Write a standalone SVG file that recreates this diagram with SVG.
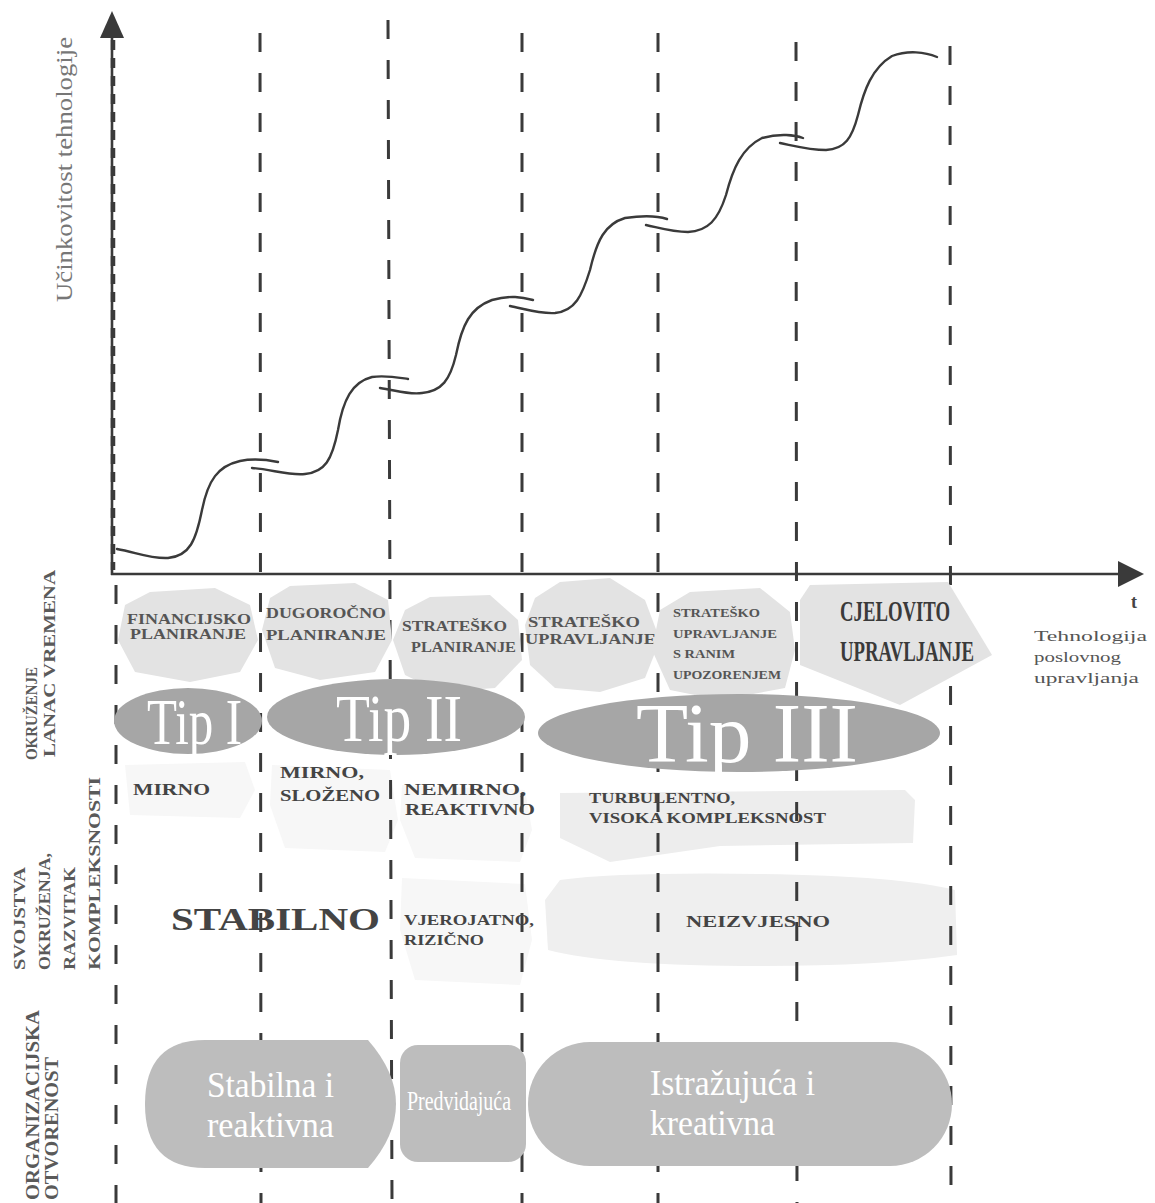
<svg xmlns="http://www.w3.org/2000/svg" width="1155" height="1203" viewBox="0 0 1155 1203">
<style>
.bg{fill:#ffffff}
.dash{stroke:#3a3a3a;stroke-width:3;stroke-dasharray:19 21;fill:none}
.axis{stroke:#3a3a3a;stroke-width:2.6;fill:none}
.curve{stroke:#3a3a3a;stroke-width:2.4;fill:none;stroke-linecap:round}
.blob{fill:#e3e3e3}
.faint{fill:#f7f7f7}
.tip{fill:#a6a6a6}
.org{fill:#bdbdbd}
.serif{font-family:"Liberation Serif","Times New Roman",serif}
.lbl{font-family:"Liberation Serif",serif;font-weight:bold;fill:#5a5a5a}
.b1{font-family:"Liberation Serif",serif;font-weight:bold;fill:#555}
.b3{font-family:"Liberation Serif",serif;font-weight:bold;fill:#444}
.w{font-family:"Liberation Serif",serif;fill:#ffffff}
</style>
<rect class="bg" x="0" y="0" width="1155" height="1203"/>

<!-- background shapes -->
<g id="faint-shapes">
  <path class="faint" d="M125,765 L245,762 L255,790 L240,818 L130,815 Z"/>
  <path class="faint" d="M272,765 L390,770 L398,820 L385,852 L285,848 L270,805 Z"/>
  <path class="faint" d="M402,785 L525,790 L532,830 L520,862 L415,858 L400,820 Z"/>
  <path class="faint" d="M402,878 L525,884 L532,940 L520,985 L415,980 L400,930 Z"/>
  <path id="turb-bg" fill="#ededed" d="M560,793 L905,790 L915,800 L913,843 L720,846 L610,862 L560,838 Z"/>
  <path id="neiz-bg" fill="#efefef" d="M560,880 Q620,872 760,874 Q900,876 955,890 L957,955 Q880,966 760,966 Q610,966 548,950 L545,900 Z"/>
</g>

<!-- dashed period lines -->
<g id="gridlines">
  <line class="dash" x1="116" y1="585" x2="116" y2="1203"/>
  <line class="dash" x1="260" y1="33" x2="261" y2="1203"/>
  <line class="dash" x1="388" y1="20" x2="392" y2="1203"/>
  <line class="dash" x1="522" y1="33" x2="522" y2="1203"/>
  <line class="dash" x1="658" y1="33" x2="658" y2="1203"/>
  <line class="dash" x1="796" y1="42" x2="797" y2="1203"/>
  <line class="dash" x1="950" y1="46" x2="951" y2="1203"/>
</g>

<!-- axes -->
<g id="axes">
  <line class="axis" x1="112" y1="34" x2="112" y2="575"/>
  <line stroke="#3a3a3a" stroke-width="4.5" stroke-dasharray="10 8" x1="113" y1="40" x2="113" y2="570"/>
  <polygon fill="#3a3a3a" points="112,11 100,38 124,38"/>
  <line class="axis" x1="111" y1="574" x2="1122" y2="574"/>
  <polygon fill="#3a3a3a" points="1144,574 1118,561 1118,587"/>
  <text class="serif" font-size="24" fill="#777" transform="translate(72,302) rotate(-90)" textLength="265" lengthAdjust="spacingAndGlyphs">Učinkovitost tehnologije</text>
  <text class="serif" font-size="18" font-weight="bold" fill="#444" x="1131" y="608">t</text>
</g>

<!-- S-curves -->
<g id="curves">
  <path class="curve" d="M117,549 C135,552 150,559 168,558 C190,556 196,540 202,510 C208,480 218,466 240,461 C255,458 268,460 278,462"/>
  <path class="curve" d="M252,468 C270,469 290,476 305,474 C325,472 332,460 338,430 C343,400 352,382 372,377 C385,375 395,377 408,379"/>
  <path class="curve" d="M380,388 C395,390 408,395 422,393 C442,391 450,380 456,355 C462,325 470,308 492,300 C510,295 522,297 533,300"/>
  <path class="curve" d="M510,306 C525,309 540,314 555,313 C575,311 582,296 590,270 C597,240 605,224 625,218 C645,215 658,216 667,219"/>
  <path class="curve" d="M646,225 C660,228 672,232 688,232 C708,231 718,220 726,195 C733,168 742,148 762,138 C780,133 795,135 803,138"/>
  <path class="curve" d="M780,143 C795,146 810,150 826,150 C845,149 852,138 858,115 C864,90 872,68 892,56 C908,50 925,52 937,57"/>
</g>

<!-- management technology nodes -->
<g id="node-financijsko">
  <polygon class="blob" points="150,592 215,588 250,605 258,640 240,672 190,682 135,672 118,640 125,605"/>
  <text class="b1" font-size="14" fill="#b0b0b0" x="127" y="624" textLength="124" lengthAdjust="spacingAndGlyphs">FINANCIJSKO</text>
  <text class="b1" font-size="14" fill="#b0b0b0" x="130" y="639" textLength="116" lengthAdjust="spacingAndGlyphs">PLANIRANJE</text>
</g>
<g id="node-dugorocno">
  <polygon class="blob" points="290,586 355,583 388,600 392,640 375,672 320,680 275,668 262,630 270,598"/>
  <text class="b1" font-size="15" x="266" y="618" textLength="120" lengthAdjust="spacingAndGlyphs">DUGOROČNO</text>
  <text class="b1" font-size="15" x="266" y="640" textLength="120" lengthAdjust="spacingAndGlyphs">PLANIRANJE</text>
</g>
<g id="node-strateško-planiranje">
  <polygon class="blob" points="430,597 490,595 518,620 522,660 495,688 440,692 405,675 393,640 405,610"/>
  <text class="b1" font-size="15" x="402" y="631" textLength="105" lengthAdjust="spacingAndGlyphs">STRATEŠKO</text>
  <text class="b1" font-size="15" x="411" y="652" textLength="105" lengthAdjust="spacingAndGlyphs">PLANIRANJE</text>
</g>
<g id="node-strateško-upravljanje">
  <polygon class="blob" points="560,582 610,578 645,600 660,640 645,678 600,692 555,688 530,665 525,625 535,598"/>
  <text class="b1" font-size="15" x="528" y="627" textLength="112" lengthAdjust="spacingAndGlyphs">STRATEŠKO</text>
  <text class="b1" font-size="15" x="525" y="644" textLength="131" lengthAdjust="spacingAndGlyphs">UPRAVLJANJE</text>
</g>
<g id="node-rano-upozorenje">
  <polygon class="blob" points="690,592 760,588 790,612 795,650 785,688 720,700 670,690 652,650 660,610"/>
  <text class="b1" font-size="12" x="673" y="617" textLength="87" lengthAdjust="spacingAndGlyphs">STRATEŠKO</text>
  <text class="b1" font-size="12" x="673" y="638" textLength="104" lengthAdjust="spacingAndGlyphs">UPRAVLJANJE</text>
  <text class="b1" font-size="12" x="673" y="658" textLength="62" lengthAdjust="spacingAndGlyphs">S RANIM</text>
  <text class="b1" font-size="12" x="673" y="679" textLength="108" lengthAdjust="spacingAndGlyphs">UPOZORENJEM</text>
</g>
<g id="node-cjelovito">
  <polygon class="blob" points="810,585 948,582 992,655 900,705 800,665 800,600"/>
  <text class="serif" font-size="29" font-weight="bold" fill="#3a3a3a" x="840" y="621" textLength="110" lengthAdjust="spacingAndGlyphs">CJELOVITO</text>
  <text class="serif" font-size="29" font-weight="bold" fill="#3a3a3a" x="840" y="661" textLength="134" lengthAdjust="spacingAndGlyphs">UPRAVLJANJE</text>
</g>
<g id="label-tehnologija">
  <text class="serif" font-size="14" fill="#555" x="1034" y="641" textLength="113" lengthAdjust="spacingAndGlyphs">Tehnologija</text>
  <text class="serif" font-size="14" fill="#555" x="1034" y="662" textLength="87" lengthAdjust="spacingAndGlyphs">poslovnog</text>
  <text class="serif" font-size="14" fill="#555" x="1034" y="683" textLength="105" lengthAdjust="spacingAndGlyphs">upravljanja</text>
</g>

<!-- environment types -->
<g id="node-tip1">
  <ellipse class="tip" cx="188" cy="721" rx="74" ry="33"/>
  <text class="w" font-size="66" x="147" y="744" textLength="95" lengthAdjust="spacingAndGlyphs">Tip I</text>
</g>
<g id="node-tip2">
  <ellipse class="tip" cx="396" cy="717" rx="129" ry="38"/>
  <text class="w" font-size="68" x="336" y="741" textLength="126" lengthAdjust="spacingAndGlyphs">Tip II</text>
</g>
<g id="node-tip3">
  <ellipse class="tip" cx="739" cy="733" rx="201" ry="39"/>
  <text class="w" font-size="84" x="636" y="762" textLength="222" lengthAdjust="spacingAndGlyphs">Tip III</text>
</g>

<!-- environment properties -->
<g id="node-mirno">
  <text class="b3" font-size="17" x="133" y="795" textLength="77" lengthAdjust="spacingAndGlyphs">MIRNO</text>
</g>
<g id="node-mirno-slozeno">
  <text class="b3" font-size="17" x="280" y="778" textLength="84" lengthAdjust="spacingAndGlyphs">MIRNO,</text>
  <text class="b3" font-size="17" x="280" y="801" textLength="100" lengthAdjust="spacingAndGlyphs">SLOŽENO</text>
</g>
<g id="node-nemirno">
  <text class="b3" font-size="16" x="404" y="795" textLength="122" lengthAdjust="spacingAndGlyphs">NEMIRNO,</text>
  <text class="b3" font-size="16" x="405" y="815" textLength="130" lengthAdjust="spacingAndGlyphs">REAKTIVNO</text>
</g>
<g id="node-turbulentno">
  <text class="b3" font-size="15" x="589" y="803" textLength="146" lengthAdjust="spacingAndGlyphs">TURBULENTNO,</text>
  <text class="b3" font-size="15" x="589" y="823" textLength="237" lengthAdjust="spacingAndGlyphs">VISOKA KOMPLEKSNOST</text>
</g>
<g id="node-stabilno">
  <text class="b3" font-size="32" x="171" y="930" textLength="209" lengthAdjust="spacingAndGlyphs">STABILNO</text>
</g>
<g id="node-vjerojatno">
  <text class="b3" font-size="14" x="404" y="925" textLength="130" lengthAdjust="spacingAndGlyphs">VJEROJATNO,</text>
  <text class="b3" font-size="14" x="404" y="945" textLength="80" lengthAdjust="spacingAndGlyphs">RIZIČNO</text>
</g>
<g id="node-neizvjesno">
  <text class="b3" font-size="17" x="686" y="927" textLength="144" lengthAdjust="spacingAndGlyphs">NEIZVJESNO</text>
</g>

<!-- organisational openness -->
<g id="node-stabilna">
  <path class="org" d="M205,1040 L368,1040 Q396,1072 396,1104 Q396,1136 368,1168 L205,1168 Q145,1168 145,1104 Q145,1040 205,1040 Z"/>
  <text class="w" font-size="36" x="207" y="1097" textLength="127" lengthAdjust="spacingAndGlyphs">Stabilna i</text>
  <text class="w" font-size="36" x="207" y="1137" textLength="127" lengthAdjust="spacingAndGlyphs">reaktivna</text>
</g>
<g id="node-predvidajuca">
  <rect class="org" x="400" y="1045" width="126" height="117" rx="18"/>
  <text class="w" font-size="28" x="407" y="1110" textLength="104" lengthAdjust="spacingAndGlyphs">Predvidajuća</text>
</g>
<g id="node-istrazujuca">
  <rect class="org" x="528" y="1042" width="424" height="124" rx="62"/>
  <text class="w" font-size="36" x="650" y="1095" textLength="165" lengthAdjust="spacingAndGlyphs">Istražujuća i</text>
  <text class="w" font-size="36" x="650" y="1135" textLength="125" lengthAdjust="spacingAndGlyphs">kreativna</text>
</g>

<!-- row labels -->
<g id="row-labels">
  <text class="lbl" font-size="17" transform="translate(37,760) rotate(-90)" textLength="93" lengthAdjust="spacingAndGlyphs">OKRUŽENJE</text>
  <text class="lbl" font-size="17" transform="translate(55,757) rotate(-90)" textLength="187" lengthAdjust="spacingAndGlyphs">LANAC VREMENA</text>
  <text class="lbl" font-size="17" transform="translate(25,970) rotate(-90)" textLength="103" lengthAdjust="spacingAndGlyphs">SVOJSTVA</text>
  <text class="lbl" font-size="17" transform="translate(50,970) rotate(-90)" textLength="117" lengthAdjust="spacingAndGlyphs">OKRUŽENJA,</text>
  <text class="lbl" font-size="17" transform="translate(75,970) rotate(-90)" textLength="103" lengthAdjust="spacingAndGlyphs">RAZVITAK</text>
  <text class="lbl" font-size="17" transform="translate(100,970) rotate(-90)" textLength="193" lengthAdjust="spacingAndGlyphs">KOMPLEKSNOSTI</text>
  <text class="lbl" font-size="19" transform="translate(39,1200) rotate(-90)" textLength="190" lengthAdjust="spacingAndGlyphs">ORGANIZACIJSKA</text>
  <text class="lbl" font-size="19" transform="translate(58,1200) rotate(-90)" textLength="143" lengthAdjust="spacingAndGlyphs">OTVORENOST</text>
</g>
</svg>
